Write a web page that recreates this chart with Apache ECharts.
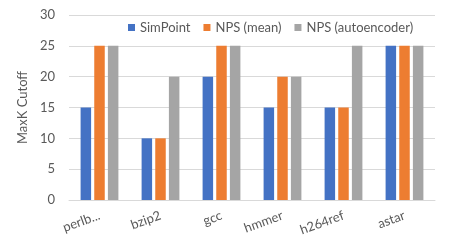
<!DOCTYPE html>
<html><head><meta charset="utf-8">
<script src="https://cdn.jsdelivr.net/npm/echarts@6/dist/echarts.min.js"></script>
<style>html,body{margin:0;padding:0;background:#fff}#c{width:450px;height:249px}</style>
</head><body><div id="c"></div>
<script>
const categories = ["perlb...", "bzip2", "gcc", "hmmer", "h264ref", "astar"];
const simPoint = [15, 10, 20, 15, 15, 25];
const npsMean = [25, 10, 25, 20, 15, 25];
const npsAuto = [25, 20, 25, 20, 25, 25];
const seriesNames = ["SimPoint", "NPS (mean)", "NPS (autoencoder)"];
const colors = ["#4472C4", "#ED7D31", "#A5A5A5"];
const font = "Lato, 'Open Sans', sans-serif";
const txt = "#595959";
const chart = echarts.init(document.getElementById('c'), null, {renderer: 'canvas'});
const mk = (name, data, i) => ({
  name, type: 'bar', data, barWidth: 10.5, barGap: '30%',
  itemStyle: {color: colors[i]}
});
chart.setOption({
  animation: false,
  textStyle: {fontFamily: font},
  color: colors,
  legend: {
    left: 123, top: 16, itemWidth: 7, itemHeight: 7, itemGap: 13, icon: 'rect',
    textStyle: {color: txt, fontSize: 13, fontFamily: font},
    data: seriesNames
  },
  grid: {left: 69, right: 15, top: 15, bottom: 49},
  xAxis: {
    type: 'category', data: categories,
    axisLine: {lineStyle: {color: '#d9d9d9'}},
    axisTick: {show: false},
    axisLabel: {rotate: 20, color: txt, fontSize: 13, fontFamily: font, margin: 15, interval: 0}
  },
  yAxis: {
    type: 'value', min: 0, max: 30, interval: 5,
    name: 'MaxK Cutoff', nameLocation: 'middle', nameGap: 38,
    nameTextStyle: {color: txt, fontSize: 13, fontFamily: font},
    axisLine: {show: false}, axisTick: {show: false},
    axisLabel: {color: txt, fontSize: 13, fontFamily: font, margin: 14},
    splitLine: {lineStyle: {color: '#d9d9d9'}}
  },
  series: [mk(seriesNames[0], simPoint, 0), mk(seriesNames[1], npsMean, 1), mk(seriesNames[2], npsAuto, 2)]
});
</script></body></html>
